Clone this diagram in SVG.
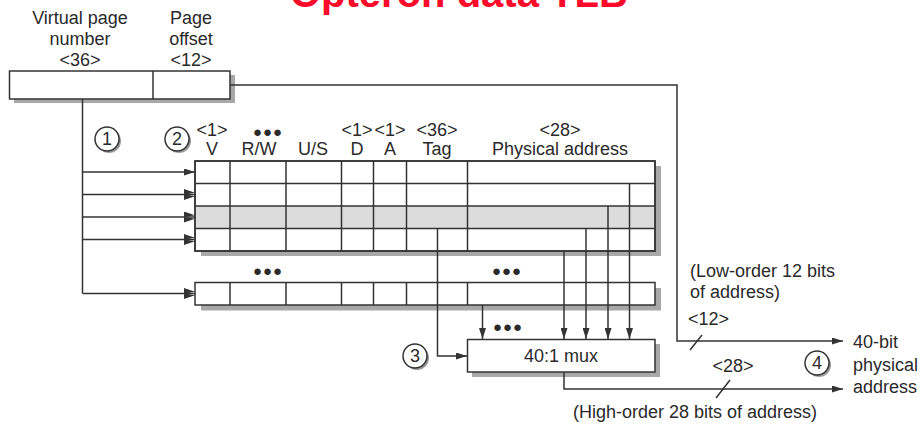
<svg xmlns="http://www.w3.org/2000/svg" width="922" height="425" viewBox="0 0 922 425">
<style>
text{font-family:"Liberation Sans",Arial,sans-serif;font-size:18px;fill:#2a2a2a}
.c{text-anchor:middle}
.box{fill:#fff;stroke:#333;stroke-width:1.5}
.gray{fill:#dcdcdc;stroke:none}
.sh{fill:#a8a8a8;stroke:none}
.ln{fill:none;stroke:#333;stroke-width:1.5}
.ar{fill:none;stroke:#333;stroke-width:1.5;marker-end:url(#ah)}
.ar2{fill:none;stroke:#333;stroke-width:1.5;marker-end:url(#ah2)}
.title{font-family:"Liberation Sans",Arial,sans-serif;font-weight:bold;font-size:40px;fill:#ff0a2a}
.dots{font-size:15px;letter-spacing:1px}
</style>
<defs>
<marker id="ah" viewBox="0 0 11 7" refX="11" refY="3.5" markerWidth="11" markerHeight="7" orient="auto" markerUnits="userSpaceOnUse"><path d="M0,0 L11,3.5 L0,7 z" fill="#333"/></marker>
<marker id="ah2" viewBox="0 0 11 11" refX="11" refY="5.5" markerWidth="11" markerHeight="11" orient="auto" markerUnits="userSpaceOnUse"><path d="M0,0 L11,3.8 L0,5.8 z M0,5.2 L11,7.2 L0,11 z" fill="#333"/></marker>
<g id="circ"><circle cx="2" cy="2" r="12" fill="#9a9a9a"/><circle cx="0" cy="0" r="12" fill="#fff" stroke="#333" stroke-width="1.5"/></g>
</defs>
<rect width="922" height="425" fill="#fff"/>
<text class="title" x="290" y="7">Opteron data TLB</text>

<g id="vaddr">
<text class="c" x="80" y="24">Virtual page</text>
<text class="c" x="80" y="45">number</text>
<text class="c" x="80" y="66">&lt;36&gt;</text>
<text class="c" x="191" y="24">Page</text>
<text class="c" x="191" y="45">offset</text>
<text class="c" x="191" y="66">&lt;12&gt;</text>
<rect class="sh" x="14" y="75" width="221" height="28"/>
<rect class="box" x="9.5" y="71" width="220.5" height="28"/>
<line class="ln" x1="153" y1="71" x2="153" y2="99"/>
</g>

<g id="labels">
<use href="#circ" x="107" y="139"/><text class="c" x="107" y="145">1</text>
<use href="#circ" x="177" y="139"/><text class="c" x="177" y="145">2</text>
<use href="#circ" x="415" y="356"/><text class="c" x="415" y="362">3</text>
<use href="#circ" x="817" y="363"/><text class="c" x="817" y="369">4</text>
<text class="c" x="212" y="136">&lt;1&gt;</text><text class="c" x="212" y="155">V</text>
<text class="c dots" x="268" y="137">●●●</text><text class="c" x="259" y="155">R/W</text>
<text class="c" x="313" y="155">U/S</text>
<text class="c" x="357" y="136">&lt;1&gt;</text><text class="c" x="357" y="155">D</text>
<text class="c" x="390" y="136">&lt;1&gt;</text><text class="c" x="390" y="155">A</text>
<text class="c" x="437" y="136">&lt;36&gt;</text><text class="c" x="437" y="155">Tag</text>
<text class="c" x="560" y="136">&lt;28&gt;</text><text class="c" x="560" y="155">Physical address</text>
<text class="c dots" x="268" y="276">●●●</text>
<text class="c dots" x="507" y="276">●●●</text>
<text class="c dots" x="508" y="332">●●●</text>
<text x="690" y="277">(Low-order 12 bits</text>
<text x="690" y="298">of address)</text>
<text x="688" y="325">&lt;12&gt;</text>
<text class="c" x="733" y="372">&lt;28&gt;</text>
<text x="853" y="348">40-bit</text>
<text x="853" y="371">physical</text>
<text x="853" y="393">address</text>
<text x="573" y="418">(High-order 28 bits of address)</text>
</g>

<g id="tlb">
<rect class="sh" x="201" y="166" width="460" height="90"/>
<rect class="box" x="195" y="161" width="460" height="90"/>
<rect class="gray" x="195.8" y="206" width="458.5" height="22.5"/>
<path class="ln" d="M195,161H655V251H195Z M195,183.5H655 M195,206H655 M195,228.5H655 M230,161V251 M286,161V251 M341.5,161V251 M373.5,161V251 M406.5,161V251 M467.5,161V251"/>
</g>

<g id="tlblast">
<rect class="sh" x="201" y="288" width="460" height="22.5"/>
<rect class="box" x="195" y="282.5" width="460" height="22.5"/>
<path class="ln" d="M230,282.5V305 M286,282.5V305 M341.5,282.5V305 M373.5,282.5V305 M406.5,282.5V305 M467.5,282.5V305"/>
</g>

<g id="mux">
<rect class="sh" x="472" y="344" width="188" height="33"/>
<rect class="box" x="467.5" y="339.5" width="187.5" height="32.5"/>
<text class="c" x="561" y="362">40:1 mux</text>
</g>

<g id="connectors">
<path class="ln" d="M82.5,99V293.5"/>
<path class="ar" d="M82.5,172H195"/>
<path class="ar2" d="M82.5,194.5H195"/>
<path class="ar2" d="M82.5,217H195"/>
<path class="ar2" d="M82.5,239.5H195"/>
<path class="ar2" d="M82.5,293.5H195"/>
<path class="ar" d="M230,85H677V341H843"/>
<path class="ln" d="M690,350L702,335"/>
<path class="ar" d="M437.5,228.5V356H467"/>
<path class="ar" d="M482.5,305V339"/>
<path class="ar" d="M564,251V339"/>
<path class="ar" d="M586,228.5V339"/>
<path class="ar" d="M608,206V339"/>
<path class="ar" d="M629.5,183.5V339"/>
<path class="ar" d="M564,372V389H843"/>
<path class="ln" d="M716,398L730,380"/>
</g>
</svg>
